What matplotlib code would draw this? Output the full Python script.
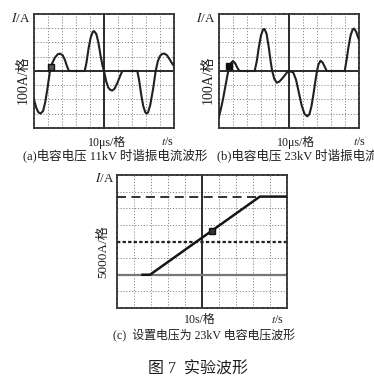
import matplotlib
matplotlib.use("Agg")
import matplotlib.pyplot as plt
import numpy as np

plt.rcParams['font.family'] = ['Liberation Serif', 'Noto Sans CJK SC']
plt.rcParams['mathtext.fontset'] = 'stix'

# ---- data (in screen divisions) ----
wave_a_x = [-5.0, -4.85, -4.7, -4.53, -4.35, -4.2, -4.05, -3.86, -3.7, -3.5, -3.3, -3.14,
            -2.95, -2.8, -2.65, -2.5, -1.38, -1.25, -1.1, -0.95, -0.8, -0.71, -0.55, -0.4,
            -0.25, -0.1, 0.0, 0.15, 0.3, 0.45, 0.59, 0.75, 0.95, 1.15, 1.31, 2.38, 2.5,
            2.65, 2.8, 2.95, 3.04, 3.15, 3.3, 3.5, 3.69, 3.85, 4.0, 4.15, 4.33, 4.5, 4.7,
            4.85, 5.0]
wave_a_y = [-2.0, -2.55, -2.88, -2.99, -2.8, -2.2, -1.3, 0.0, 0.55, 0.95, 1.18, 1.22,
            1.1, 0.8, 0.35, 0.0, 0.0, 0.6, 1.6, 2.35, 2.75, 2.8, 2.6, 2.0,
            1.1, 0.35, 0.0, -0.7, -1.15, -1.33, -1.37, -1.25, -0.85, -0.35, 0.0, 0.0, -0.6,
            -1.6, -2.45, -2.9, -2.99, -2.9, -2.4, -1.3, 0.0, 0.7, 1.05, 1.2, 1.22, 1.1, 0.8,
            0.55, 0.35]

wave_b_x = [-5.0, -4.85, -4.7, -4.55, -4.4, -4.3, -4.15, -4.0, -3.85, -3.7, -3.55, -2.45,
            -2.3, -2.15, -2.0, -1.85, -1.75, -1.6, -1.45, -1.3, -1.2, -1.05, -0.88, -0.7,
            -0.5, -0.3, -0.1, 0.0, 0.3, 0.5, 0.7, 0.9, 1.1, 1.3, 1.45, 1.6, 1.75, 1.9, 2.0,
            2.1, 2.25, 2.4, 2.55, 2.7, 3.98, 4.1, 4.25, 4.4, 4.55, 4.65, 4.8, 4.9, 5.0]
wave_b_y = [-3.2, -2.6, -1.9, -1.1, -0.3, 0.15, 0.55, 0.7, 0.55, 0.25, 0.0, 0.0,
            0.7, 1.7, 2.5, 2.92, 2.95, 2.6, 1.7, 0.6, 0.0, -0.55, -0.82, -0.75,
            -0.55, -0.3, -0.05, 0.0, -0.1, -0.6, -1.5, -2.4, -3.0, -3.18, -3.05, -2.5, -1.6, -0.6, 0.0,
            0.45, 0.72, 0.6, 0.3, 0.0, 0.0, 0.7, 1.7, 2.5, 2.92, 2.98, 2.75, 2.45, 2.2]

ramp_x = [-3.5, -3.06, 3.4, 5.0]
ramp_y = [-2.0, -2.0, 2.7, 2.7]
set_level = 2.7
base_level = -2.0

marker_a = (-3.8, 0.25)
marker_b = (-4.3, 0.35)
marker_c = (0.57, 0.62)

W, H = 374, 380
fig = plt.figure(figsize=(W / 100, H / 100), dpi=100)
fig.patch.set_facecolor('white')


def ax_px(x0, y0, x1, y1):
    return fig.add_axes([x0 / W, 1 - y1 / H, (x1 - x0) / W, (y1 - y0) / H])


def ft(x, y, s, **kw):
    kw.setdefault('ha', 'center')
    kw.setdefault('va', 'center')
    kw.setdefault('color', '#1e1e1e')
    fig.text(x / W, 1 - y / H, s, **kw)


def scope(ax, hcenter_style='solid'):
    ax.set_xlim(-5, 5)
    ax.set_ylim(-4, 4)
    for v in range(-4, 5):
        if v != 0:
            ax.axvline(v, color='#8a8a8a', lw=0.7, ls=(0, (1.2, 1.8)), zorder=1)
    for v in range(-3, 4):
        if v != 0:
            ax.axhline(v, color='#8a8a8a', lw=0.7, ls=(0, (1.2, 1.8)), zorder=1)
    ax.axvline(0, color='#1a1a1a', lw=1.3, zorder=2)
    if hcenter_style == 'solid':
        ax.axhline(0, color='#1a1a1a', lw=1.3, zorder=2)
    else:
        ax.axhline(0, color='#222222', lw=1.6, ls=(0, (1.5, 1.0)), zorder=2)
    for s in ax.spines.values():
        s.set_color('#333333')
        s.set_linewidth(1.3)
        s.set_linestyle((0, (2.0, 0.8)))
    ax.set_xticks([])
    ax.set_yticks([])


# (a)
axa = ax_px(34, 14, 174, 128)
scope(axa)
axa.plot(wave_a_x, wave_a_y, color='#202020', lw=1.5, solid_joinstyle='round', zorder=3)
axa.plot(*marker_a, marker='s', ms=4.5, mfc='#555555', mec='#111111', mew=1.0, zorder=4)

# (b)
axb = ax_px(219, 14, 359, 128)
scope(axb)
axb.plot(wave_b_x, wave_b_y, color='#202020', lw=1.5, solid_joinstyle='round', zorder=3)
axb.plot(*marker_b, marker='s', ms=4.5, mfc='#111111', mec='#111111', zorder=4)

# (c)
axc = ax_px(117, 175, 287, 308)
scope(axc, hcenter_style='dotted')
axc.axhline(base_level, color='#777777', lw=1.6, zorder=2)
axc.plot([-5, ramp_x[2]], [set_level, set_level], color='#222222', lw=1.3,
         ls=(0, (5, 3)), zorder=3)
axc.plot(ramp_x, ramp_y, color='#151515', lw=1.8, solid_joinstyle='round', zorder=3)
axc.plot(*marker_c, marker='s', ms=5, mfc='#333333', mec='#111111', zorder=4)

fs = 8.6
cap = 9.0
ylab = 10.0
# labels (a)
ft(21, 18, r'$I$/A', fontsize=fs + 0.8)
ft(23, 80, '100A/格', fontsize=ylab, rotation=90)
ft(107, 142, '10μs/格', fontsize=fs)
ft(167, 142, r'$t$/s', fontsize=fs)
ft(23, 155, '(a)电容电压 11kV 时谐振电流波形', fontsize=cap, ha='left')

# labels (b)
ft(206, 18, r'$I$/A', fontsize=fs + 0.8)
ft(208, 80, '100A/格', fontsize=ylab, rotation=90)
ft(296, 142, '10μs/格', fontsize=fs)
ft(359, 142, r'$t$/s', fontsize=fs)
ft(217, 155, '(b)电容电压 23kV 时谐振电流波形', fontsize=cap, ha='left')

# labels (c)
ft(105, 178, r'$I$/A', fontsize=fs + 0.8)
ft(103, 252, '5000A/格', fontsize=ylab - 0.5, rotation=90)
ft(200, 320, '10s/格', fontsize=fs)
ft(277, 320, r'$t$/s', fontsize=fs)
ft(113, 336, '(c)  设置电压为 23kV 电容电压波形', fontsize=fs, ha='left')

ft(198, 370, '图 7  实验波形', fontsize=11.5)

fig.savefig('out.png', dpi=100, facecolor='white')
